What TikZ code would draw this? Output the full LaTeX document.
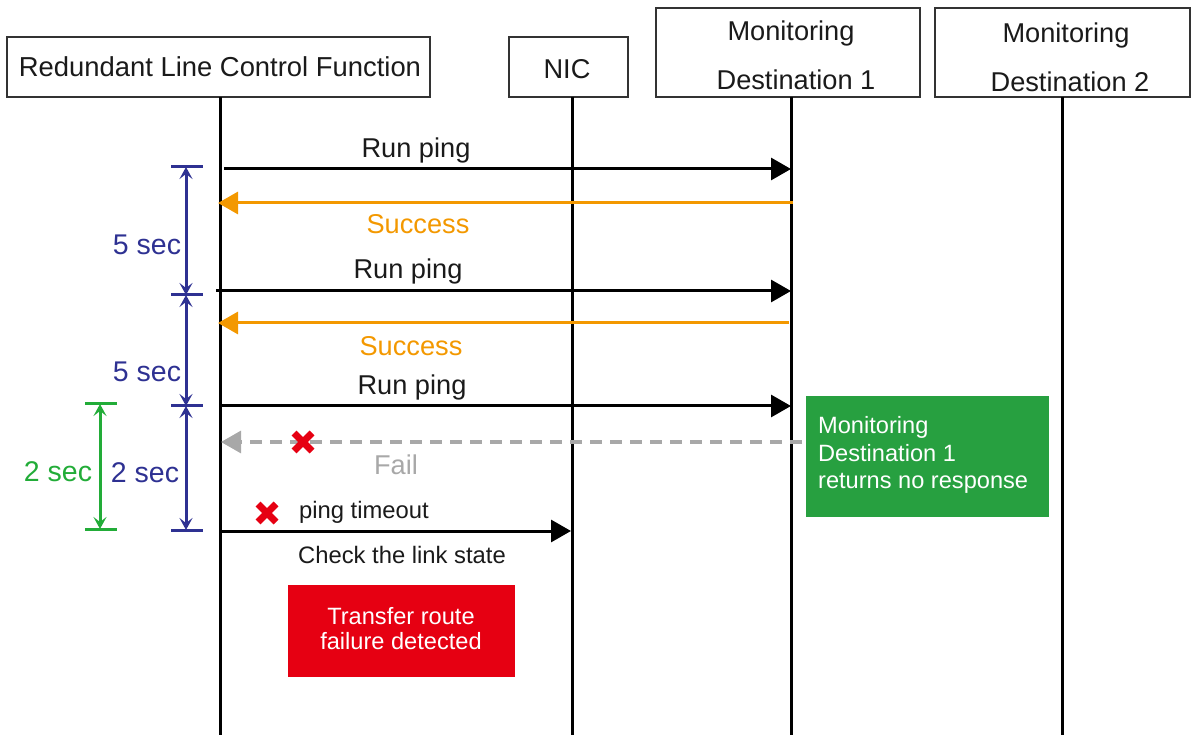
\documentclass[tikz,border=0pt]{standalone}
\usepackage{fontspec}
\setmainfont{Liberation Sans}
\usetikzlibrary{arrows.meta}
\definecolor{navy}{HTML}{2E3192}
\definecolor{orng}{HTML}{F39800}
\definecolor{grn}{HTML}{22AC38}
\definecolor{gbox}{HTML}{27A040}
\definecolor{rbox}{HTML}{E60012}
\definecolor{gry}{HTML}{A8A8A8}
\definecolor{txt}{HTML}{1A1A1A}
\begin{document}
\begin{tikzpicture}[x=1pt,y=-1pt,
  hdr/.style={draw=black!80,line width=1.3pt,fill=white,inner sep=0pt},
  life/.style={line width=3pt,black},
  msg/.style={line width=3pt,black,-{Triangle[length=20pt,width=22pt]}},
  ret/.style={line width=3pt,orng,-{Triangle[length=20pt,width=22pt]}},
  fail/.style={line width=3pt,gry,dash pattern=on 12pt off 8pt,-{Triangle[length=20pt,width=22pt]}},
  lbl/.style={font=\fontsize{27.2}{31}\selectfont,text=txt,inner sep=0pt},
  hlbl/.style={font=\fontsize{27.4}{31}\selectfont,text=txt,inner sep=0pt},
  dlbl/.style={font=\fontsize{28.5}{32}\selectfont,inner sep=0pt},
  small/.style={font=\fontsize{23.8}{27}\selectfont,text=txt,inner sep=0pt},
  dimtick/.style={line width=3pt},
  dimarr/.style={line width=3pt,{Stealth[length=12pt,width=13pt,inset=5pt]}-{Stealth[length=12pt,width=13pt,inset=5pt]}},
  redx/.pic={\draw[rbox,line width=7pt] (-9,-9)--(9,9) (-9,9)--(9,-9);}
]
\useasboundingbox (0,0) rectangle (1195,735);
% headers
\node[hdr,minimum width=423pt,minimum height=60pt] (rlcf) at (218.5,67) {};
\node[hlbl] (rlcft) at (220,67) {Redundant Line Control Function};
\node[hdr,minimum width=119pt,minimum height=60pt] (nic) at (568.5,67) {};
\node[lbl] (nict) at (567,69) {NIC};
\node[hdr,minimum width=264pt,minimum height=89pt] (md1) at (788,52.5) {};
\node[lbl] (md1a) at (791,33) {Monitoring};
\node[lbl] (md1b) at (796,80) {Destination 1};
\node[hdr,minimum width=255pt,minimum height=89pt] (md2) at (1062.5,52.5) {};
\node[lbl] (md2a) at (1066,35) {Monitoring};
\node[lbl] (md2b) at (1070,82) {Destination 2};
% lifelines
\coordinate (l1t) at (220,97); \coordinate (l1b) at (220,735);
\coordinate (l2t) at (572,97); \coordinate (l2b) at (572,735);
\coordinate (l3t) at (791,97); \coordinate (l3b) at (791,735);
\coordinate (l4t) at (1062,97); \coordinate (l4b) at (1062,735);
\draw[life] (l1t) -- (l1b);
\draw[life] (l2t) -- (l2b);
\draw[life] (l3t) -- (l3b);
\draw[life] (l4t) -- (l4b);
% status boxes
\node[fill=gbox,minimum width=243pt,minimum height=121pt,inner sep=0pt] (gb) at (927.5,456.5) {};
\node[anchor=west,align=left,text=white,font=\fontsize{23.6}{27.5}\selectfont,inner sep=0pt] (gbt) at (818,455) {Monitoring\\Destination 1\\returns no response};
\node[fill=rbox,minimum width=227pt,minimum height=92pt,inner sep=0pt] (rb) at (401.5,630.5) {};
\node[align=center,text=white,font=\fontsize{23.6}{25}\selectfont,inner sep=0pt] (rbt) at (401,629) {Transfer route\\failure detected};
% messages
\coordinate (a1) at (224,169); \coordinate (b1) at (791,169);
\draw[msg] (a1) -- (b1);
\node[lbl] (t1) at (416,150) {Run ping};
\coordinate (a2) at (793,203); \coordinate (b2) at (218,203);
\draw[ret] (a2) -- (b2);
\node[lbl,text=orng] (t2) at (418,224) {Success};
\coordinate (a3) at (216,291); \coordinate (b3) at (791,291);
\draw[msg] (a3) -- (b3);
\node[lbl] (t3) at (408,271) {Run ping};
\coordinate (a4) at (789,323); \coordinate (b4) at (218,323);
\draw[ret] (a4) -- (b4);
\node[lbl,text=orng] (t4) at (411,346) {Success};
\coordinate (a5) at (220,406); \coordinate (b5) at (791,406);
\draw[msg] (a5) -- (b5);
\node[lbl] (t5) at (412,387) {Run ping};
\coordinate (a6) at (802,442); \coordinate (b6) at (221,442);
\draw[fail] (a6) -- (b6);
\pic at (303,442) {redx};
\node[lbl,text=gry] (t6) at (396,465) {Fail};
\pic at (267,513) {redx};
\node[small] (t7) at (364,512) {ping timeout};
\coordinate (a7) at (220,531); \coordinate (b7) at (571,531);
\draw[msg] (a7) -- (b7);
\node[small] (t8) at (402,555) {Check the link state};
% blue dimension
\begin{scope}[navy]
\draw[dimtick] (171,167) -- (203,167);
\draw[dimtick] (171,295) -- (203,295);
\draw[dimtick] (171,406) -- (203,406);
\draw[dimtick] (171,530) -- (203,530);
\coordinate (d1) at (186,167); \coordinate (d2) at (186,295);
\coordinate (d3) at (186,406); \coordinate (d4) at (186,530);
\draw[dimarr] (d1) -- (d2);
\draw[dimarr] (d2) -- (d3);
\draw[dimarr] (d3) -- (d4);
\node[dlbl,text=navy] (s1) at (147,245) {5 sec};
\node[dlbl,text=navy] (s2) at (147,372) {5 sec};
\node[dlbl,text=navy] (s3) at (145,473) {2 sec};
\end{scope}
% green dimension
\begin{scope}[grn]
\draw[dimtick] (85,404) -- (117,404);
\draw[dimtick] (85,529) -- (117,529);
\coordinate (g1) at (100,404); \coordinate (g2) at (100,529);
\draw[dimarr] (g1) -- (g2);
\node[dlbl,text=grn] (s4) at (58,472) {2 sec};
\end{scope}
\end{tikzpicture}
\end{document}
